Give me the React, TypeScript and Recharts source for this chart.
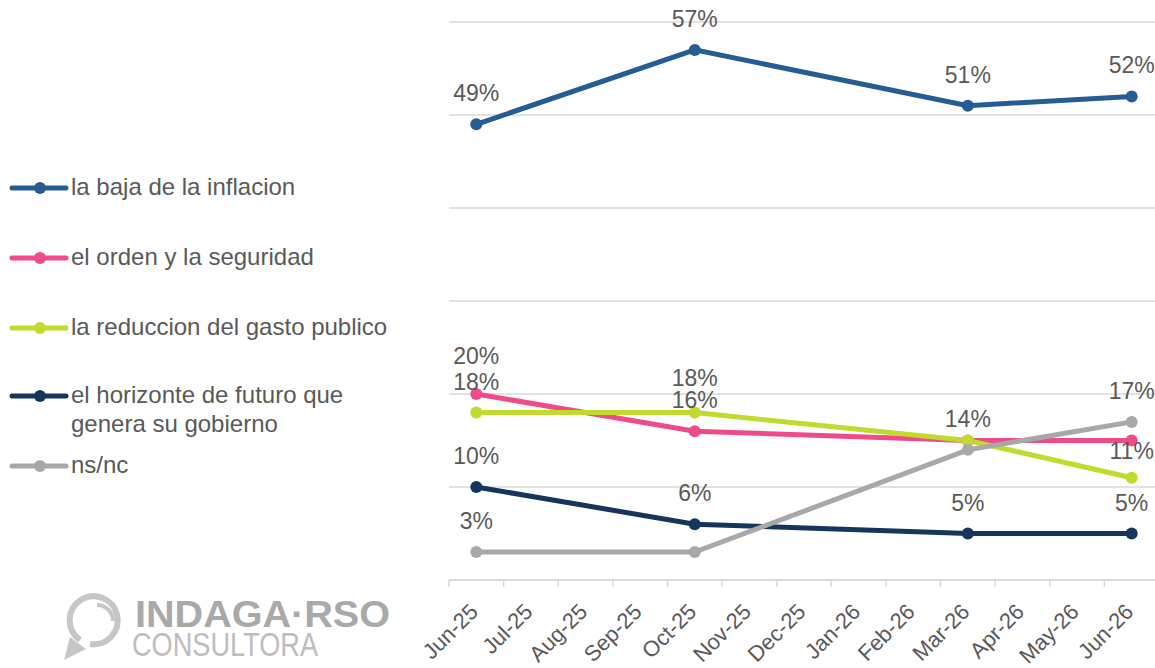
import React from 'react';
import { LineChart, Line, XAxis, YAxis, CartesianGrid, LabelList } from 'recharts';

const months = ['Jun-25', 'Jul-25', 'Aug-25', 'Sep-25', 'Oct-25', 'Nov-25', 'Dec-25', 'Jan-26', 'Feb-26', 'Mar-26', 'Apr-26', 'May-26', 'Jun-26'];

const inflacion = [49, null, null, null, 57, null, null, null, null, 51, null, null, 52];
const seguridad = [20, null, null, null, 16, null, null, null, null, 15, null, null, 15];
const gasto = [18, null, null, null, 18, null, null, null, null, 15, null, null, 11];
const horizonte = [10, null, null, null, 6, null, null, null, null, 5, null, null, 5];
const nsnc = [3, null, null, null, 3, null, null, null, null, 14, null, null, 17];

const inflacionLabels = ['Jun-25', 'Oct-25', 'Mar-26', 'Jun-26'];
const seguridadLabels = ['Jun-25', 'Oct-25'];
const gastoLabels = ['Jun-25', 'Oct-25', 'Jun-26'];
const horizonteLabels = ['Jun-25', 'Oct-25', 'Mar-26', 'Jun-26'];
const nsncLabels = ['Jun-25', 'Mar-26', 'Jun-26'];

const yTicks = [0, 10, 20, 30, 40, 50, 60];

const FONT = '"Liberation Sans", Arial, sans-serif';
const TEXT = '#595959';
const GRID = '#d9d9d9';

const series = [
  { key: 'inflacion', name: 'la baja de la inflacion', values: inflacion, labels: inflacionLabels, color: '#255c93', lift: {} as Record<string, number> },
  { key: 'seguridad', name: 'el orden y la seguridad', values: seguridad, labels: seguridadLabels, color: '#ef4a89', lift: { 'Jun-25': 30 } as Record<string, number> },
  { key: 'gasto', name: 'la reduccion del gasto publico', values: gasto, labels: gastoLabels, color: '#c2d92e', lift: { 'Oct-25': 27, 'Jun-26': 19 } as Record<string, number> },
  { key: 'horizonte', name: 'el horizonte de futuro que\ngenera su gobierno', values: horizonte, labels: horizonteLabels, color: '#15365a', lift: {} as Record<string, number> },
  { key: 'nsnc', name: 'ns/nc', values: nsnc, labels: nsncLabels, color: '#a8a8a8', lift: {} as Record<string, number> },
];

const data = months.map((m, i) => {
  const row: Record<string, any> = { month: m };
  series.forEach((s) => {
    row[s.key] = s.values[i];
  });
  return row;
});

const legendY = [188, 258, 328, 396, 466];

const MonthTick = (props: any) => {
  const { x, y, payload } = props;
  const half = 710 / months.length / 2;
  return (
    <g>
      <line x1={x - half} x2={x - half} y1={y - 7} y2={y} stroke={GRID} strokeWidth={1.5} />
      <g transform={`translate(${x + 3},${y + 26})`}>
        <text transform="rotate(-45)" textAnchor="end" fill={TEXT} fontSize={22} fontFamily={FONT}>
          {payload.value}
        </text>
      </g>
    </g>
  );
};

const makeLabel = (s: typeof series[number]) => (props: any) => {
  const { x, y, value, index } = props;
  const m = months[index];
  if (value == null || !s.labels.includes(m)) return null;
  const lift = s.lift[m] ?? 23;
  return (
    <text x={x} y={y - lift} textAnchor="middle" fill={TEXT} fontSize={23} fontFamily={FONT}>
      {`${value}%`}
    </text>
  );
};

const Legend = () => (
  <div style={{ position: 'absolute', left: 0, top: 0, width: 440, height: 560, pointerEvents: 'none' }}>
    {series.map((s, i) => (
      <div key={s.key} style={{ position: 'absolute', left: 0, top: legendY[i] - 16 }}>
        <svg width={70} height={32} style={{ position: 'absolute', left: 0, top: 0 }}>
          <line x1={12} x2={66} y1={16} y2={16} stroke={s.color} strokeWidth={5} strokeLinecap="round" />
          <circle cx={40} cy={16} r={6} fill={s.color} />
        </svg>
        <div
          style={{
            position: 'absolute',
            left: 71,
            top: 0,
            whiteSpace: 'pre',
            fontFamily: FONT,
            fontSize: 24,
            lineHeight: '29px',
            color: TEXT,
          }}
        >
          {s.name}
        </div>
      </div>
    ))}
  </div>
);

const Logo = () => (
  <svg width={420} height={88} style={{ position: 'absolute', left: 0, top: 580 }} viewBox="0 580 420 88">
    <path d="M 80 640 A 24 24 0 1 1 90 644" fill="none" stroke="#c6c6c6" strokeWidth={6} />
    <path d="M 97 605 A 16 16 0 0 1 113 621" fill="none" stroke="#c6c6c6" strokeWidth={4} />
    <polygon points="64,660 70,637 86,649" fill="#c6c6c6" />
    <text x={135} y={627} fontFamily={FONT} fontWeight={700} fontSize={36} fill="#a9a9a9" textLength={255} lengthAdjust="spacingAndGlyphs">
      INDAGA·RSO
    </text>
    <text x={132} y={656} fontFamily={FONT} fontWeight={400} fontSize={34} fill="#bdbdbd" textLength={186} lengthAdjust="spacingAndGlyphs">
      CONSULTORA
    </text>
  </svg>
);

export default function App() {
  return (
    <div style={{ position: 'absolute', left: 0, top: 0, width: 1155, height: 668, overflow: 'hidden', background: '#fff' }}>
      <LineChart width={1165} height={668} data={data} margin={{ top: 22, right: 6, bottom: 0, left: 449 }}>
        <CartesianGrid vertical={false} stroke={GRID} strokeWidth={1.3} />
        <YAxis hide domain={[0, 60]} ticks={yTicks} />
        <XAxis
          dataKey="month"
          scale="band"
          interval={0}
          height={88}
          tickSize={7}
          tickMargin={0}
          tickLine={false}
          axisLine={{ stroke: GRID, strokeWidth: 1.5 }}
          tick={<MonthTick />}
        />
        {series.map((s) => (
          <Line
            key={s.key}
            dataKey={s.key}
            name={s.name}
            stroke={s.color}
            strokeWidth={5}
            connectNulls
            dot={{ r: 6, fill: s.color, stroke: 'none' }}
            isAnimationActive={false}
          >
            <LabelList dataKey={s.key} content={makeLabel(s)} />
          </Line>
        ))}
      </LineChart>
      <Legend />
      <Logo />
    </div>
  );
}
